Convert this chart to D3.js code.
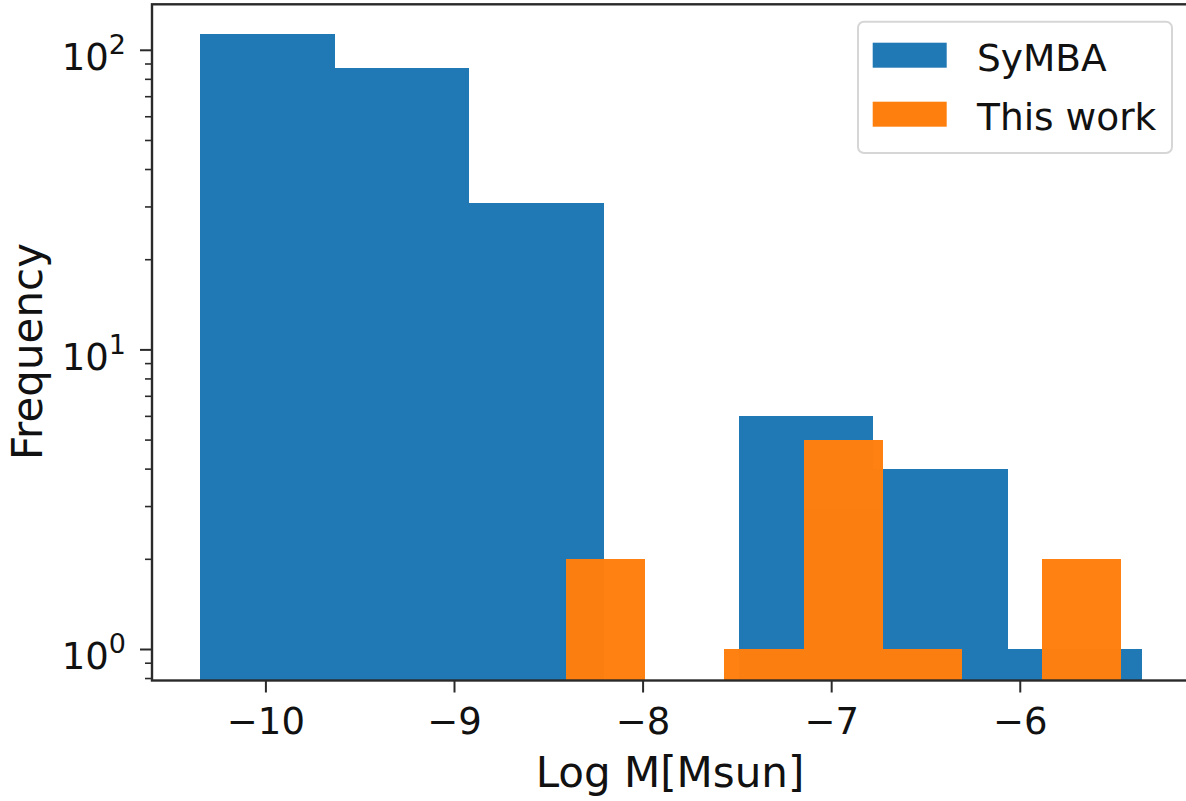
<!DOCTYPE html>
<html>
<head>
<meta charset="utf-8">
<script src="https://cdn.jsdelivr.net/npm/d3@7"></script>
<style>
  html, body { margin: 0; padding: 0; background: #fff; }
  svg { display: block; }
  text { font-family: "DejaVu Sans", sans-serif; fill: #111; }
</style>
</head>
<body>
<svg id="chart" width="1186" height="801"></svg>
<script>
// ---- data ----
const seriesNames = ["SyMBA", "This work"];
const seriesColors = ["#2078b4", "#ff7f0e"];
// SyMBA histogram: 7 bins from -10.35 to -5.352
const symbaStart = -10.35;
const symbaEnd = -5.352;
const symbaCounts = [113, 87, 31, 0, 6, 4, 1];
// This work histogram: 7 bins from -8.409 to -5.467
const workStart = -8.409;
const workEnd = -5.467;
const workCounts = [2, 0, 1, 5, 1, 0, 2];
const xTicks = [-10, -9, -8, -7, -6];
const yMajorTicks = [1, 10, 100];
const yMajorLabels = ["0", "1", "2"];
const xDomain = [-10.604, -5.10];
const yDomain = [0.788, 142.4];
const xLabel = "Log M[Msun]";
const yLabel = "Frequency";

// ---- layout ----
const svg = d3.select("#chart");
const mLeft = 152, mRight = 1190, mTop = 4.3, mBottom = 680.5;
const x = d3.scaleLinear().domain(xDomain).range([mLeft, mRight]);
const y = d3.scaleLog().domain(yDomain).range([mBottom, mTop]);

function bins(start, end, counts) {
  const w = (end - start) / counts.length;
  return counts.map((c, i) => ({x0: start + i * w, x1: start + (i + 1) * w, c}));
}

const plot = svg.append("g");
plot.append("g").attr("shape-rendering", "crispEdges")
  .selectAll("rect")
  .data(bins(symbaStart, symbaEnd, symbaCounts).filter(d => d.c > 0))
  .join("rect")
  .attr("x", d => x(d.x0)).attr("width", d => x(d.x1) - x(d.x0))
  .attr("y", d => y(d.c)).attr("height", d => mBottom - y(d.c))
  .attr("fill", seriesColors[0]);
plot.append("g").attr("shape-rendering", "crispEdges").attr("opacity", 0.985)
  .selectAll("rect")
  .data(bins(workStart, workEnd, workCounts).filter(d => d.c > 0))
  .join("rect")
  .attr("x", d => x(d.x0)).attr("width", d => x(d.x1) - x(d.x0))
  .attr("y", d => y(d.c)).attr("height", d => mBottom - y(d.c))
  .attr("fill", seriesColors[1]);

// ---- axes ----
const axisColor = "#2a2a2a";
svg.append("rect").attr("x", mLeft).attr("y", mTop).attr("width", mRight - mLeft).attr("height", mBottom - mTop)
  .attr("fill", "none").attr("stroke", axisColor).attr("stroke-width", 2.4);

// x ticks
const xg = svg.append("g");
xTicks.forEach(t => {
  const px = x(t);
  xg.append("line").attr("x1", px).attr("x2", px).attr("y1", mBottom).attr("y2", mBottom + 12)
    .attr("stroke", axisColor).attr("stroke-width", 2);
  xg.append("text").attr("x", px).attr("y", 734).attr("text-anchor", "middle")
    .attr("font-size", 37).text("\u2212" + Math.abs(t));
});

// y ticks (log)
const yg = svg.append("g");
const minorTicks = y.ticks().filter(v => v >= yDomain[0] && v <= yDomain[1] && !yMajorTicks.includes(v));
minorTicks.forEach(v => {
  const py = y(v);
  yg.append("line").attr("x1", mLeft - 7).attr("x2", mLeft).attr("y1", py).attr("y2", py)
    .attr("stroke", axisColor).attr("stroke-width", 1.6);
});
yMajorTicks.forEach((v, i) => {
  const py = y(v);
  yg.append("line").attr("x1", mLeft - 12).attr("x2", mLeft).attr("y1", py).attr("y2", py)
    .attr("stroke", axisColor).attr("stroke-width", 2);
  const t = yg.append("text").attr("x", 126).attr("y", py + 20).attr("text-anchor", "end");
  t.append("tspan").attr("font-size", 37).text("10");
  t.append("tspan").attr("font-size", 27).attr("dy", -16).text(yMajorLabels[i]);
});

// axis labels
svg.append("text").attr("x", 670).attr("y", 787).attr("text-anchor", "middle")
  .attr("font-size", 42).text(xLabel);
svg.append("text").attr("transform", "translate(42,351.5) rotate(-90)").attr("text-anchor", "middle")
  .attr("font-size", 42).text(yLabel);

// ---- legend ----
const lg = svg.append("g");
lg.append("rect").attr("x", 858).attr("y", 21.7).attr("width", 314).attr("height", 131.3)
  .attr("rx", 6).attr("fill", "#fff").attr("fill-opacity", 0.8)
  .attr("stroke", "#d6d6d6").attr("stroke-width", 2);
const legendY = [42.7, 101.7];
seriesNames.forEach((name, i) => {
  lg.append("rect").attr("x", 872.7).attr("y", legendY[i]).attr("width", 74).attr("height", 25)
    .attr("fill", seriesColors[i]);
  lg.append("text").attr("x", 977).attr("y", legendY[i] + 28.5).attr("font-size", 37.5).text(name);
});
</script>
</body>
</html>
